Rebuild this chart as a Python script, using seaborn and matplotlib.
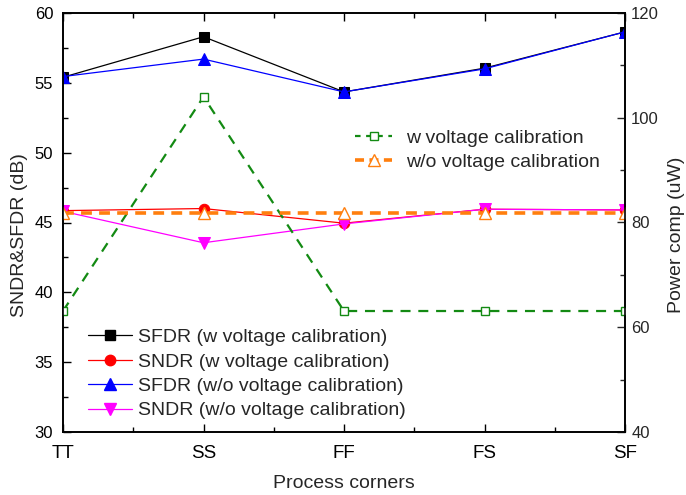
import matplotlib
matplotlib.use("Agg")
import matplotlib.pyplot as plt
import seaborn as sns
import pandas as pd
from matplotlib.ticker import MultipleLocator
from matplotlib.lines import Line2D

corners = ["TT", "SS", "FF", "FS", "SF"]
sfdr_w = [55.4, 58.3, 54.35, 56.05, 58.65]
sndr_w = [45.85, 46.0, 44.95, 45.95, 45.9]
sfdr_wo = [55.45, 56.7, 54.35, 56.0, 58.65]
sndr_wo = [45.8, 43.55, 44.9, 45.95, 45.9]
power_w = [63.1, 104.0, 63.1, 63.1, 63.1]
power_wo = [81.8, 81.8, 81.8, 81.8, 81.8]

sns.set_theme(style="ticks")
plt.rcParams['font.family'] = ['Liberation Sans', 'DejaVu Sans']

fig = plt.figure(figsize=(6.86, 4.95), dpi=100)
ax = fig.add_axes([63/686, 1-432/495, (625-63)/686, (432-13)/495])
ax2 = ax.twinx()

green = "#138a13"
orange = "#ff7f0e"

left_series = [
    ("SFDR (w voltage calibration)", sfdr_w, "black", "s", 7),
    ("SNDR (w voltage calibration)", sndr_w, "red", "o", 7.5),
    ("SFDR (w/o voltage calibration)", sfdr_wo, "blue", "^", 8),
    ("SNDR (w/o voltage calibration)", sndr_wo, "magenta", "v", 8),
]
handles1 = []
for name, vals, col, mk, ms in left_series:
    df = pd.DataFrame({"corner": corners, "val": vals})
    sns.lineplot(data=df, x="corner", y="val", ax=ax, color=col, marker=mk,
                 markersize=ms, markeredgecolor=col, linewidth=0.9, sort=False)
    handles1.append(Line2D([], [], color=col, marker=mk, markersize=ms,
                           markeredgecolor=col, linewidth=0.9, label=name))

df_pw = pd.DataFrame({"corner": corners, "val": power_w})
sns.lineplot(data=df_pw, x="corner", y="val", ax=ax2, color=green,
             marker="s", markersize=6, markerfacecolor="white",
             markeredgecolor=green, markeredgewidth=1.0,
             linewidth=1.6, linestyle=(0, (4.5, 3.5)), sort=False)
df_pwo = pd.DataFrame({"corner": corners, "val": power_wo})
sns.lineplot(data=df_pwo, x="corner", y="val", ax=ax2, color=orange,
             marker="^", markersize=8.5, markerfacecolor="white",
             markeredgecolor=orange, markeredgewidth=1.0,
             linewidth=2.6, linestyle=(0, (3, 2)), sort=False)
handles2 = [
    Line2D([], [], color=green, marker="s", markersize=6, markerfacecolor="white",
           markeredgecolor=green, linewidth=1.6, linestyle=(0, (2.5, 2.5)),
           label="w voltage calibration"),
    Line2D([], [], color=orange, marker="^", markersize=8.5, markerfacecolor="white",
           markeredgecolor=orange, linewidth=2.6, linestyle=(0, (2.5, 1.5)),
           label="w/o voltage calibration"),
]

ax.set_xlim(0, 4)
ax.set_ylim(30, 60)
ax2.set_ylim(40, 120)
ax.yaxis.set_major_locator(MultipleLocator(5))
ax.yaxis.set_minor_locator(MultipleLocator(2.5))
ax.xaxis.set_minor_locator(MultipleLocator(0.5))
ax2.yaxis.set_major_locator(MultipleLocator(20))
ax2.yaxis.set_minor_locator(MultipleLocator(10))

fs = 14
yfs = 12
ax.tick_params(axis="both", which="both", direction="in", top=True, colors="black")
ax.tick_params(axis="x", labelsize=13.5, pad=9)
ax.tick_params(axis="y", labelsize=yfs, pad=7)
ax.tick_params(which="major", length=6, width=1)
ax.tick_params(which="minor", length=3.5, width=1)
ax2.tick_params(axis="y", which="both", direction="in", labelsize=yfs, pad=4.5)
ax2.tick_params(which="major", length=6, width=1)
ax2.tick_params(which="minor", length=3.5, width=1)

for a in (ax, ax2):
    for s in a.spines.values():
        s.set_color("black")
        s.set_linewidth(1.2)

ax.set_xlabel("Process corners", fontsize=fs, labelpad=10)
ax.set_ylabel("SNDR&SFDR (dB)", fontsize=fs)
ax2.set_ylabel("Power comp (uW)", fontsize=fs)
ax.yaxis.set_label_coords(-0.062, 0.47)
ax2.yaxis.set_label_coords(1.077, 0.47)

ax.legend(handles=handles1, loc="lower left", bbox_to_anchor=(0.0445, 0.03),
          borderaxespad=0, borderpad=0, frameon=False, fontsize=fs,
          handlelength=2.27, handletextpad=0.3, labelspacing=0.35)
ax2.legend(handles=handles2, loc="upper left", bbox_to_anchor=(0.52, 0.723),
           borderaxespad=0, borderpad=0, frameon=False, fontsize=fs,
           handlelength=1.9, handletextpad=0.7, labelspacing=0.35)

fig.savefig("out.png", dpi=100)
